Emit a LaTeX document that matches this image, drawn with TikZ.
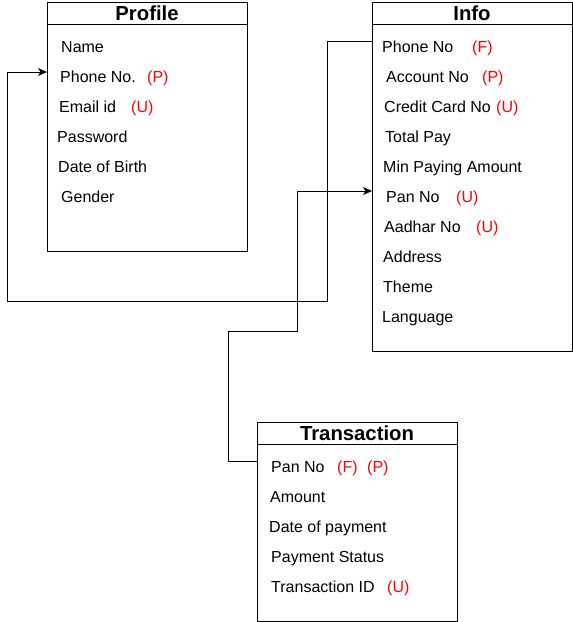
\documentclass[tikz,border=0pt]{standalone}
\usepackage{fontspec}
\setmainfont{Liberation Sans}
\usetikzlibrary{arrows.meta}
\begin{document}
\begin{tikzpicture}[x=1pt,y=-1pt,
  box/.style={draw, line width=1pt, anchor=north west, inner sep=0, minimum width=200pt},
  field/.style={anchor=base west, inner sep=0, font=\fontsize{16}{16}\selectfont},
  keyfield/.style={field, text=red},
  title/.style={anchor=base, inner sep=0, font=\fontsize{20.3}{20.3}\selectfont\bfseries},
  link/.style={line width=0.9pt, -{Stealth[length=9pt,width=8pt,inset=2.5pt]}}]
\useasboundingbox (0,0) rectangle (573,622);
% boxes
\node[box, minimum height=249pt] (profile) at (47,2) {};
\node[box, minimum height=349pt] (info) at (372,2) {};
\node[box, minimum height=199pt] (trans) at (257,422) {};
\draw[line width=1pt] (47,24) -- (247,24);
\draw[line width=1pt] (372,24) -- (572,24);
\draw[line width=1pt] (257,444) -- (457,444);
% titles
\node[title] (tprofile) at (147,20.5) {Profile};
\node[title] (tinfo) at (472,20.5) {Info};
\node[title] (ttrans) at (357,440.5) {Transaction};
% Profile fields
\node[field] (p1) at (61,52) {Name};
\node[field] (p2) at (60,82) {Phone No.};
\node[keyfield] (p2k) at (147,82) {(P)};
\node[field] (p3) at (59,112) {Email id};
\node[keyfield] (p3k) at (131,112) {(U)};
\node[field] (p4) at (57,142) {Password};
\node[field] (p5) at (58,172) {Date of Birth};
\node[field] (p6) at (61,202) {Gender};
% Info fields
\node[field] (i1) at (382,52) {Phone No};
\node[keyfield] (i1k) at (472,52) {(F)};
\node[field] (i2) at (386,82) {Account No};
\node[keyfield] (i2k) at (482,82) {(P)};
\node[field] (i3) at (384,112) {Credit Card No};
\node[keyfield] (i3k) at (496,112) {(U)};
\node[field] (i4) at (385,142) {Total Pay};
\node[field] (i5) at (383,172) {Min Paying Amount};
\node[field] (i6) at (386,202) {Pan No};
\node[keyfield] (i6k) at (456,202) {(U)};
\node[field] (i7) at (384,232) {Aadhar No};
\node[keyfield] (i7k) at (476,232) {(U)};
\node[field] (i8) at (383,262) {Address};
\node[field] (i9) at (383,292) {Theme};
\node[field] (i10) at (382,322) {Language};
% Transaction fields
\node[field] (t1) at (271,472) {Pan No};
\node[keyfield] (t1f) at (337,472) {(F)};
\node[keyfield] (t1p) at (367,472) {(P)};
\node[field] (t2) at (270,502) {Amount};
\node[field] (t3) at (269,532) {Date of payment};
\node[field] (t4) at (271,562) {Payment Status};
\node[field] (t5) at (271,592) {Transaction ID};
\node[keyfield] (t5k) at (387,592) {(U)};
% connection points
\coordinate (infoPhone) at (info.west |- 0,41);
\coordinate (profPhone) at (profile.west |- 0,72);
\coordinate (infoPan) at (info.west |- 0,191);
\coordinate (transPan) at (trans.west |- 0,461);
% connectors
\draw[link] (infoPhone) -- (327,41) -- (327,301) -- (7,301) -- (7,72) -- (profPhone);
\draw[link] (transPan) -- (228,461) -- (228,331) -- (297,331) -- (297,191) -- (infoPan);
\end{tikzpicture}
\end{document}
